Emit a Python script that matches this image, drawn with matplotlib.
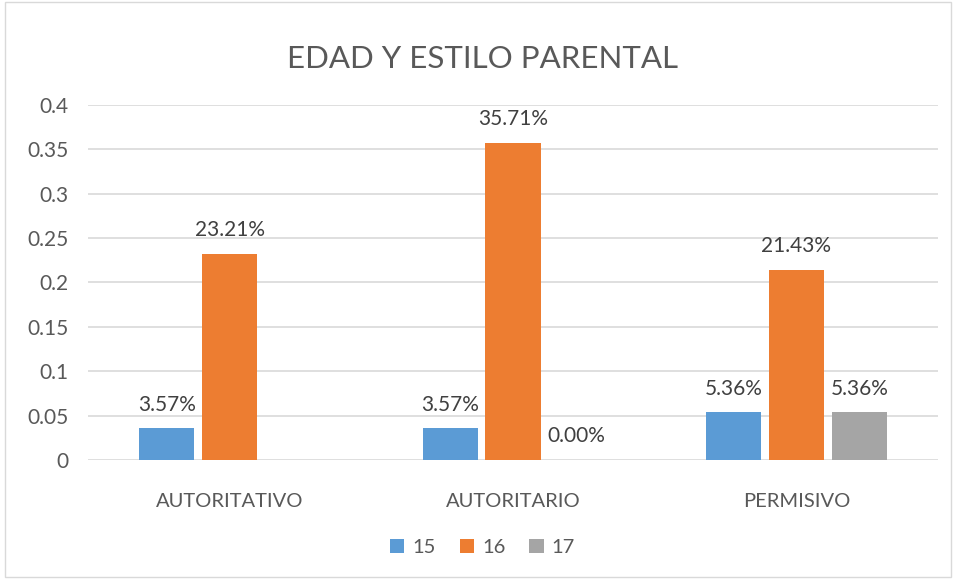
import numpy as np
import matplotlib.pyplot as plt
from matplotlib.patches import Rectangle

categories = ["AUTORITATIVO", "AUTORITARIO", "PERMISIVO"]
series_names = ["15", "16", "17"]
values_15 = [0.0357, 0.0357, 0.0536]
values_16 = [0.2321, 0.3571, 0.2143]
values_17 = [np.nan, 0.0, 0.0536]
colors = ["#5B9BD5", "#ED7D31", "#A5A5A5"]

text_color = "#595959"
plt.rcParams['font.family'] = ['Lato', 'DejaVu Sans']

fig = plt.figure(figsize=(9.65, 5.79), dpi=100)
ax = fig.add_axes([0.0912, 0.2055, 0.881, 0.6132])

fig.patches.append(Rectangle((0.005, 0.003), 0.98, 0.994, transform=fig.transFigure,
                             fill=False, edgecolor="#D9D9D9", linewidth=1))

x = np.arange(len(categories))
width = 0.195
step = 0.222
all_series = [values_15, values_16, values_17]
for i, vals in enumerate(all_series):
    pos = x + (i - 1) * step
    ax.bar(pos, vals, width, color=colors[i], label=series_names[i], zorder=2)
    for p, v in zip(pos, vals):
        if np.isnan(v):
            continue
        ax.annotate(f"{v * 100:.2f}%", (p, v), xytext=(0, 17), textcoords="offset points",
                    ha="center", va="center", fontsize=15, color="#404040", zorder=3)

ax.set_xlim(-0.5, 2.5)
ax.set_ylim(0, 0.4)
ax.set_yticks(np.arange(0, 0.401, 0.05))
ax.set_yticklabels(["0", "0.05", "0.1", "0.15", "0.2", "0.25", "0.3", "0.35", "0.4"])
ax.set_xticks(x)
ax.set_xticklabels(categories)
ax.tick_params(axis="y", length=0, pad=14, labelsize=15, labelcolor=text_color)
ax.tick_params(axis="x", length=0, pad=24, labelsize=14.5, labelcolor=text_color)
ax.grid(axis="y", color="#D9D9D9", linewidth=1.2, zorder=0)
for s in ax.spines.values():
    s.set_visible(False)

fig.text(0.5, 0.898, "EDAD Y ESTILO PARENTAL", ha="center", va="center",
         fontsize=22.5, color=text_color)

fig.legend(loc="center", bbox_to_anchor=(0.5, 0.055), ncol=3, frameon=False,
           fontsize=14.5, handlelength=0.7, handleheight=0.7, handletextpad=0.4,
           columnspacing=1.2, labelcolor=text_color)

fig.savefig("out.png", dpi=100)
